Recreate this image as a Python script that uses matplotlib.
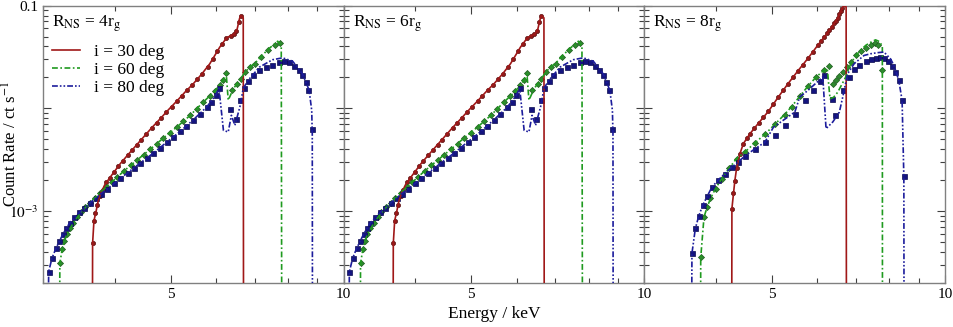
import matplotlib
matplotlib.use("Agg")
import matplotlib.pyplot as plt
from matplotlib.ticker import FixedLocator, NullFormatter, FixedFormatter

plt.rcParams['font.family'] = ['Liberation Serif', 'DejaVu Serif']
plt.rcParams['mathtext.fontset'] = 'stix'

# ---- R_NS = 4 rg and 6 rg (the two panels look the same) ----
red_dat_E = [3.66, 3.68, 3.70, 3.73, 3.77, 3.81, 3.86, 3.92, 3.99, 4.06, 4.13, 4.21, 4.29, 4.37, 4.45, 4.54,
             4.64, 4.73, 4.82, 4.92, 5.02, 5.13, 5.23, 5.34, 5.45, 5.56, 5.68, 5.80, 5.92, 6.03, 6.14, 6.25,
             6.36, 6.44, 6.51, 6.57, 6.62]
red_dat_C = [4.85e-4, 8.0e-4, 9.6e-4, 1.15e-3, 1.40e-3, 1.62e-3, 1.90e-3, 2.12e-3, 2.41e-3, 2.75e-3, 3.10e-3,
             3.50e-3, 3.95e-3, 4.40e-3, 4.95e-3, 5.60e-3, 6.40e-3, 7.20e-3, 8.05e-3, 9.30e-3, 1.04e-2, 1.18e-2,
             1.33e-2, 1.51e-2, 1.69e-2, 1.92e-2, 2.18e-2, 2.55e-2, 3.05e-2, 3.65e-2, 4.25e-2, 4.80e-2, 5.10e-2,
             5.25e-2, 5.70e-2, 6.90e-2, 8.00e-2]
red_mod_E = [3.655, 3.66, 3.68, 3.71, 3.74, 3.78, 3.84, 3.91, 3.99, 4.09, 4.21, 4.35, 4.49, 4.64, 4.80, 4.96,
             5.13, 5.30, 5.48, 5.66, 5.85, 5.97, 6.09, 6.21, 6.29, 6.38, 6.46, 6.53, 6.59, 6.62, 6.69, 6.70]
red_mod_C = [1e-5, 4.85e-4, 8.05e-4, 9.85e-4, 1.23e-3, 1.48e-3, 1.79e-3, 2.07e-3, 2.41e-3, 2.90e-3, 3.50e-3,
             4.31e-3, 5.27e-3, 6.49e-3, 7.94e-3, 9.71e-3, 1.18e-2, 1.44e-2, 1.74e-2, 2.14e-2, 2.71e-2, 3.27e-2,
             3.94e-2, 4.57e-2, 4.93e-2, 5.12e-2, 5.31e-2, 5.93e-2, 7.43e-2, 8.00e-2, 7.6e-2, 1e-5]

grn_dat_E = [3.21, 3.24, 3.27, 3.30, 3.34, 3.39, 3.44, 3.49, 3.55, 3.62, 3.69, 3.77, 3.86, 3.95, 4.04, 4.15,
             4.26, 4.37, 4.49, 4.61, 4.74, 4.86, 4.99, 5.13, 5.26, 5.41, 5.55, 5.70, 5.85, 5.97, 6.09, 6.17,
             6.25, 6.39, 6.52, 6.62, 6.74, 6.87, 7.01, 7.19, 7.39, 7.59, 7.74]
grn_dat_C = [3.10e-4, 4.25e-4, 5.15e-4, 5.98e-4, 6.84e-4, 7.71e-4, 8.68e-4, 9.70e-4, 1.085e-3, 1.205e-3,
             1.35e-3, 1.51e-3, 1.70e-3, 1.91e-3, 2.15e-3, 2.46e-3, 2.80e-3, 3.13e-3, 3.55e-3, 4.00e-3, 4.54e-3,
             5.15e-3, 5.80e-3, 6.59e-3, 7.54e-3, 8.55e-3, 9.93e-3, 1.15e-2, 1.32e-2, 1.47e-2, 1.67e-2, 1.87e-2,
             2.20e-2, 1.50e-2, 1.73e-2, 1.94e-2, 2.25e-2, 2.52e-2, 2.72e-2, 3.15e-2, 3.66e-2, 4.09e-2, 4.31e-2]
grn_mod_E = [3.205, 3.21, 3.24, 3.30, 3.39, 3.49, 3.62, 3.77, 3.95, 4.15, 4.37, 4.61, 4.86, 5.13, 5.41, 5.70,
             5.97, 6.17, 6.25, 6.30, 6.43, 6.52, 6.62, 6.74, 6.87, 7.01, 7.19, 7.39, 7.59, 7.68, 7.79, 7.81]
grn_mod_C = [1e-5, 3.10e-4, 4.25e-4, 5.98e-4, 7.71e-4, 9.70e-4, 1.205e-3, 1.51e-3, 1.91e-3, 2.46e-3, 3.13e-3,
             4.00e-3, 5.15e-3, 6.59e-3, 8.55e-3, 1.15e-2, 1.47e-2, 1.87e-2, 2.15e-2, 1.20e-2, 1.55e-2, 1.73e-2,
             1.94e-2, 2.25e-2, 2.52e-2, 2.75e-2, 3.20e-2, 3.75e-2, 4.25e-2, 4.50e-2, 4.00e-2, 1e-5]

blu_dat_E = [3.07, 3.11, 3.16, 3.20, 3.25, 3.29, 3.34, 3.40, 3.47, 3.54, 3.62, 3.71, 3.79, 3.88, 3.99, 4.09,
             4.21, 4.32, 4.43, 4.55, 4.67, 4.80, 4.93, 5.06, 5.20, 5.33, 5.48, 5.62, 5.78, 5.89, 5.99, 6.07,
             6.34, 6.49, 6.60, 6.70, 6.82, 6.95, 7.14, 7.33, 7.52, 7.73, 7.88, 8.04, 8.20, 8.35, 8.48, 8.59,
             8.68, 8.80]
blu_dat_C = [2.58e-4, 3.47e-4, 4.34e-4, 5.15e-4, 5.98e-4, 6.79e-4, 7.71e-4, 8.68e-4, 9.70e-4, 1.077e-3,
             1.205e-3, 1.34e-3, 1.48e-3, 1.65e-3, 1.86e-3, 2.09e-3, 2.36e-3, 2.65e-3, 2.94e-3, 3.32e-3, 3.68e-3,
             4.15e-3, 4.71e-3, 5.27e-3, 5.98e-3, 6.73e-3, 7.76e-3, 8.87e-3, 1.03e-2, 1.15e-2, 1.34e-2, 1.59e-2,
             9.93e-3, 7.94e-3, 1.20e-2, 1.59e-2, 1.84e-2, 2.09e-2, 2.34e-2, 2.52e-2, 2.67e-2, 2.82e-2, 2.88e-2,
             2.82e-2, 2.61e-2, 2.34e-2, 2.09e-2, 1.80e-2, 1.50e-2, 6.35e-3]
blu_mod_E = [3.05, 3.07, 3.11, 3.16, 3.25, 3.34, 3.47, 3.62, 3.79, 3.99, 4.21, 4.43, 4.67, 4.93, 5.20, 5.48,
             5.78, 5.99, 6.07, 6.18, 6.30, 6.38, 6.47, 6.60, 6.69, 6.82, 7.14, 7.52, 7.83, 8.15, 8.48, 8.71,
             8.80, 8.82, 8.83]
blu_mod_C = [1e-5, 2.58e-4, 3.47e-4, 4.34e-4, 5.98e-4, 7.71e-4, 9.70e-4, 1.205e-3, 1.48e-3, 1.86e-3, 2.36e-3,
             2.94e-3, 3.68e-3, 4.71e-3, 5.98e-3, 7.76e-3, 1.03e-2, 1.34e-2, 1.57e-2, 6.11e-3, 5.89e-3, 8.55e-3,
             6.84e-3, 1.03e-2, 1.56e-2, 1.87e-2, 2.52e-2, 2.97e-2, 3.10e-2, 2.88e-2, 2.17e-2, 1.50e-2, 9.57e-3,
             5.67e-3, 1e-5]

# ---- R_NS = 8 rg ----
red8_dat_E = [4.26, 4.28, 4.31, 4.34, 4.37, 4.40, 4.46, 4.52, 4.58, 4.66, 4.74, 4.83, 4.93, 5.03, 5.13, 5.23,
              5.33, 5.44, 5.55, 5.66, 5.78, 5.89, 6.01, 6.09, 6.17, 6.23, 6.29, 6.36, 6.42, 6.47, 6.51, 6.55,
              6.59, 6.63]
red8_dat_C = [1.06e-3, 1.50e-3, 1.97e-3, 2.60e-3, 3.10e-3, 3.63e-3, 4.54e-3, 5.10e-3, 5.67e-3, 6.40e-3,
              7.20e-3, 8.20e-3, 9.35e-3, 1.10e-2, 1.29e-2, 1.50e-2, 1.73e-2, 2.00e-2, 2.32e-2, 2.66e-2, 3.08e-2,
              3.55e-2, 4.12e-2, 4.55e-2, 4.97e-2, 5.35e-2, 5.72e-2, 6.20e-2, 6.73e-2, 7.15e-2, 7.59e-2, 8.20e-2,
              8.81e-2, 9.50e-2]
red8_mod_E = [4.255, 4.26, 4.31, 4.34, 4.40, 4.46, 4.58, 4.74, 4.93, 5.13, 5.33, 5.55, 5.78, 6.01, 6.17, 6.29,
              6.42, 6.51, 6.59, 6.66, 6.73, 6.74]
red8_mod_C = [1e-5, 1.06e-3, 1.97e-3, 2.60e-3, 3.63e-3, 4.54e-3, 5.67e-3, 7.20e-3, 9.35e-3, 1.29e-2, 1.73e-2,
              2.32e-2, 3.08e-2, 4.12e-2, 4.97e-2, 5.72e-2, 6.73e-2, 7.59e-2, 8.81e-2, 0.100, 0.097, 1e-5]

grn8_dat_E = [3.76, 3.81, 3.86, 3.91, 3.99, 4.09, 4.21, 4.34, 4.49, 4.67, 4.86, 5.06, 5.26, 5.41, 5.59, 5.78,
              5.97, 6.17, 6.29, 6.38, 6.46, 6.55, 6.64, 6.75, 6.86, 7.00, 7.14, 7.28, 7.43, 7.54, 7.65, 7.78]
grn8_dat_C = [3.55e-4, 8.81e-4, 1.10e-3, 1.33e-3, 1.66e-3, 2.07e-3, 2.60e-3, 3.25e-3, 3.77e-3, 4.61e-3,
              5.58e-3, 7.00e-3, 8.71e-3, 1.04e-2, 1.31e-2, 1.65e-2, 2.02e-2, 2.37e-2, 2.61e-2, 1.73e-2, 1.87e-2,
              2.05e-2, 2.25e-2, 2.52e-2, 2.82e-2, 3.27e-2, 3.60e-2, 3.88e-2, 4.15e-2, 4.31e-2, 4.09e-2, 2.34e-2]
grn8_mod_E = [3.755, 3.76, 3.81, 3.86, 3.91, 3.99, 4.09, 4.21, 4.34, 4.49, 4.67, 4.86, 5.06, 5.26, 5.41, 5.59,
              5.78, 5.97, 6.17, 6.24, 6.31, 6.40, 6.51, 6.72, 6.86, 7.00, 7.14, 7.28, 7.43, 7.57, 7.70, 7.78,
              7.785]
grn8_mod_C = [1e-5, 3.55e-4, 8.81e-4, 1.10e-3, 1.33e-3, 1.66e-3, 2.07e-3, 2.60e-3, 3.25e-3, 3.77e-3, 4.61e-3,
              5.58e-3, 7.00e-3, 8.71e-3, 1.04e-2, 1.31e-2, 1.65e-2, 2.02e-2, 2.37e-2, 2.45e-2, 1.24e-2, 1.28e-2,
              1.44e-2, 2.02e-2, 2.75e-2, 3.27e-2, 3.70e-2, 4.10e-2, 4.40e-2, 4.64e-2, 4.45e-2, 4.0e-2, 1e-5]

blu8_dat_E = [3.63, 3.68, 3.73, 3.79, 3.86, 3.93, 4.03, 4.14, 4.26, 4.37, 4.49, 4.67, 4.86, 5.06, 5.26, 5.48,
              5.70, 5.89, 6.05, 6.15, 6.35, 6.44, 6.65, 6.82, 6.95, 7.09, 7.28, 7.43, 7.57, 7.71, 7.83, 7.96,
              8.09, 8.20, 8.31, 8.42, 8.48]
blu8_dat_C = [3.88e-4, 6.79e-4, 8.94e-4, 1.14e-3, 1.40e-3, 1.70e-3, 2.00e-3, 2.32e-3, 2.69e-3, 3.01e-3,
              3.45e-3, 4.03e-3, 4.68e-3, 5.55e-3, 6.84e-3, 8.87e-3, 1.20e-2, 1.52e-2, 1.83e-2, 2.09e-2, 1.24e-2,
              8.55e-3, 1.50e-2, 2.02e-2, 2.43e-2, 2.67e-2, 2.88e-2, 3.01e-2, 3.10e-2, 3.15e-2, 3.10e-2, 2.92e-2,
              2.61e-2, 2.25e-2, 1.87e-2, 1.21e-2, 2.19e-3]
blu8_mod_E = [3.62, 3.63, 3.68, 3.73, 3.79, 3.86, 3.93, 4.03, 4.14, 4.26, 4.37, 4.49, 4.67, 4.86, 5.03, 5.48,
              5.59, 5.78, 6.13, 6.21, 6.38, 6.55, 6.64, 6.77, 6.95, 7.23, 7.43, 7.63, 7.83, 8.04, 8.15, 8.31,
              8.42, 8.48, 8.49]
blu8_mod_C = [1e-5, 3.88e-4, 6.79e-4, 8.94e-4, 1.14e-3, 1.40e-3, 1.70e-3, 2.00e-3, 2.32e-3, 2.69e-3, 3.01e-3,
              3.45e-3, 4.03e-3, 4.68e-3, 6.55e-3, 9.20e-3, 1.29e-2, 1.50e-2, 2.02e-2, 6.35e-3, 7.37e-3, 9.20e-3,
              1.29e-2, 2.17e-2, 2.72e-2, 3.27e-2, 3.40e-2, 3.48e-2, 3.53e-2, 3.03e-2, 2.61e-2, 1.87e-2, 1.20e-2,
              2.15e-3, 1e-5]

panel_titles = [r'R$_{\mathrm{NS}}$ = 4r$_{\mathrm{g}}$', r'R$_{\mathrm{NS}}$ = 6r$_{\mathrm{g}}$',
                r'R$_{\mathrm{NS}}$ = 8r$_{\mathrm{g}}$']
incl_labels = ['i = 30 deg', 'i = 60 deg', 'i = 80 deg']

panel_data = [
    [(red_dat_E, red_dat_C, red_mod_E, red_mod_C), (grn_dat_E, grn_dat_C, grn_mod_E, grn_mod_C),
     (blu_dat_E, blu_dat_C, blu_mod_E, blu_mod_C)],
    [(red_dat_E, red_dat_C, red_mod_E, red_mod_C), (grn_dat_E, grn_dat_C, grn_mod_E, grn_mod_C),
     (blu_dat_E, blu_dat_C, blu_mod_E, blu_mod_C)],
    [(red8_dat_E, red8_dat_C, red8_mod_E, red8_mod_C), (grn8_dat_E, grn8_dat_C, grn8_mod_E, grn8_mod_C),
     (blu8_dat_E, blu8_dat_C, blu8_mod_E, blu8_mod_C)],
]

line_col = ['#a01818', '#1f9a1f', '#1c1c9c']
mk_face = ['#8e1c1c', '#2f8a2f', '#14147e']
mk_edge = ['#5a0e0e', '#1b5a1b', '#0a0a50']
markers = ['o', 'D', 's']
msizes = [3.0, 3.1, 3.6]
dashes = [None, (3.5, 1.5, 1.0, 1.5), (3.5, 1.2, 1.0, 1.2, 1.0, 1.2)]

fig = plt.figure(figsize=(9.54, 3.27), dpi=100)
axes = fig.subplots(1, 3, sharey=True)
fig.subplots_adjust(left=0.045, right=0.9906, bottom=0.1346, top=0.983, wspace=0)

for k, ax in enumerate(axes):
    ax.set_xscale('log')
    ax.set_yscale('log')
    for j, (dE, dC, mE, mC) in enumerate(panel_data[k]):
        ax.plot(dE, dC, linestyle='none', marker=markers[j], ms=msizes[j],
                mfc=mk_face[j], mec=mk_edge[j], mew=0.5, zorder=2)
        ln, = ax.plot(mE, mC, color=line_col[j], lw=1.2, label=incl_labels[j], zorder=3)
        if dashes[j] is not None:
            ln.set_dashes(dashes[j])
    ax.set_xlim(3, 10)
    ax.set_ylim(2e-4, 0.1)
    ax.xaxis.set_major_locator(FixedLocator([5, 10]))
    ax.xaxis.set_major_formatter(FixedFormatter(['5', '10']))
    ax.xaxis.set_minor_locator(FixedLocator([3, 4, 6, 7, 8, 9]))
    ax.xaxis.set_minor_formatter(NullFormatter())
    ax.yaxis.set_major_locator(FixedLocator([1e-3, 1e-2, 1e-1]))
    ax.yaxis.set_major_formatter(FixedFormatter([r'$10^{-3}$', '', '0.1']))
    ax.yaxis.set_minor_formatter(NullFormatter())
    ax.tick_params(which='both', direction='in', top=True, right=True, labelsize=11,
                   color='#404040', width=0.8)
    ax.tick_params(which='major', length=6)
    ax.tick_params(which='minor', length=3.5)
    ax.tick_params(axis='y', which='both', pad=3)
    for sp in ax.spines.values():
        sp.set_color('#808080')
        sp.set_linewidth(1.0)
    ax.text(0.03, 0.935, panel_titles[k], transform=ax.transAxes, fontsize=12.5, va='center', ha='left')

axes[0].set_ylabel('Count Rate / ct s$^{-1}$', fontsize=12)
axes[0].yaxis.set_label_coords(-0.072, 0.5)
axes[1].set_xlabel('Energy / keV', fontsize=12.5, labelpad=4)
axes[0].legend(loc='upper left', bbox_to_anchor=(-0.01, 0.905), frameon=False, fontsize=12.5,
               handlelength=1.6, handletextpad=0.8, labelspacing=0.1, borderaxespad=0.3)

fig.savefig('out.png', dpi=100)
